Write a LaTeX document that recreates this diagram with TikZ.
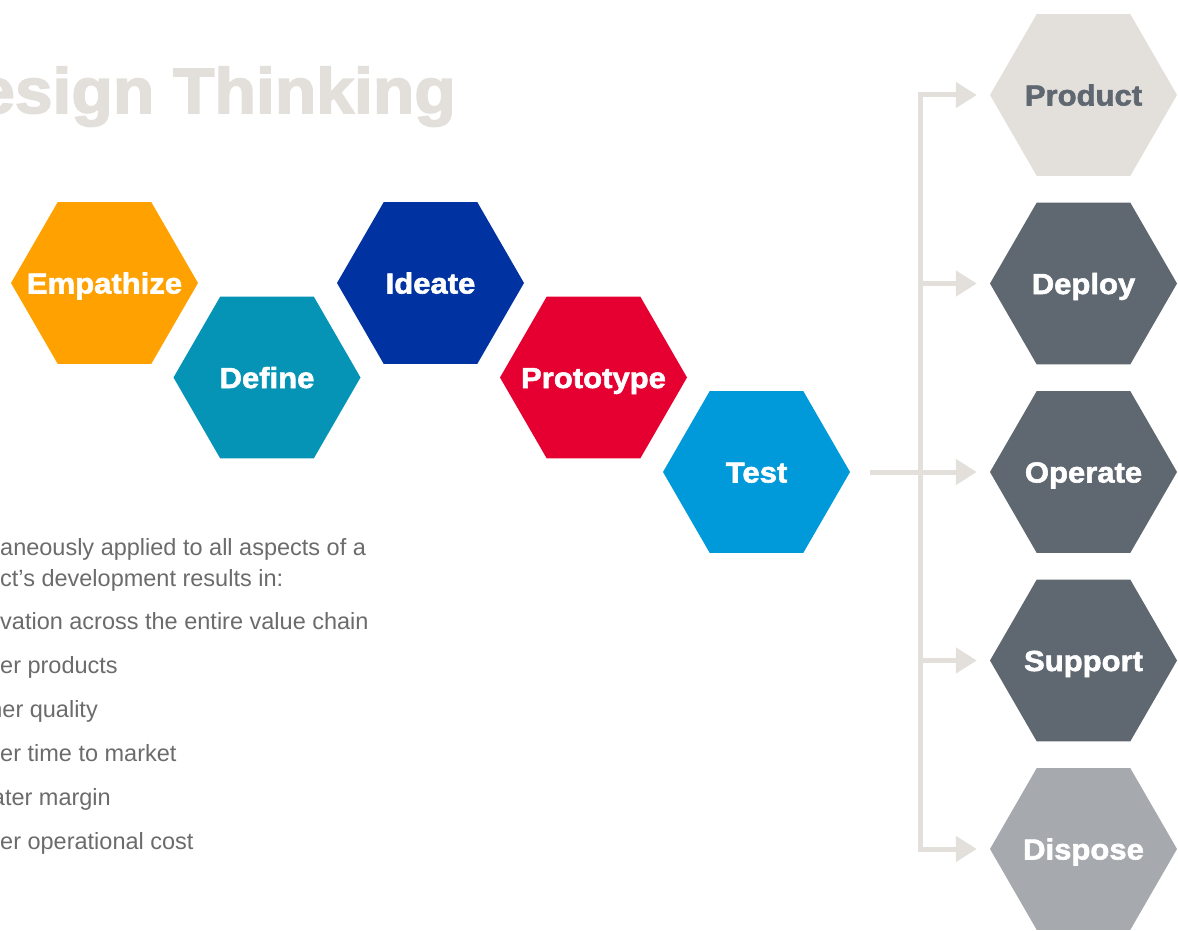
\documentclass[tikz,border=0pt]{standalone}
\usepackage{fontspec}
\setmainfont{Liberation Sans}
\newfontfamily\heavy[FakeStretch=1.07,FakeBold=2]{Liberation Sans Bold}
\newfontfamily\heavytitle[FakeStretch=1.06,FakeBold=2.6]{Liberation Sans Bold}
\usetikzlibrary{shapes.geometric,arrows.meta}
\definecolor{orng}{HTML}{FFA100}
\definecolor{teal}{HTML}{0594B5}
\definecolor{dblue}{HTML}{0033A1}
\definecolor{rred}{HTML}{E60032}
\definecolor{lblue}{HTML}{0099DA}
\definecolor{lgray}{HTML}{E3E0DC}
\definecolor{slate}{HTML}{5F6770}
\definecolor{mgray}{HTML}{A6AAAE}
\definecolor{bodytext}{HTML}{6B6B6B}
\tikzset{
  hexa/.style={regular polygon, regular polygon sides=6, minimum size=187pt,
    inner sep=0pt, draw=none, fill=#1, text=white, text height=21pt, text depth=0pt,
    font=\heavy\fontsize{29}{29}\selectfont},
  conn/.style={draw=lgray, line width=5pt, line join=miter,
    -{Triangle[length=21pt,width=25pt]}},
  bodyline/.style={anchor=base west, inner sep=0pt, text=bodytext,
    font=\fontsize{23.5}{23.5}\selectfont},
  bodycut/.style={anchor=base east, inner sep=0pt, text=bodytext,
    font=\fontsize{23.5}{23.5}\selectfont},
}
\newcommand{\hx}[1]{\makebox[0pt]{#1}}
\begin{document}
\begin{tikzpicture}[x=1pt,y=-1pt]
\useasboundingbox (0,0) rectangle (1178,931);
\clip (0,0) rectangle (1178,931);
% title
\node[anchor=base east, inner sep=0pt, text=lgray, font=\heavytitle\fontsize{64}{64}\selectfont] (title) at (456,113) {esign Thinking};
% process hexagons
\node[hexa=orng] (emp) at (104.5,283) {\hx{Empathize}};
\node[hexa=teal] (def) at (267,377.5) {\hx{Define}};
\node[hexa=dblue] (ide) at (430.5,283) {\hx{Ideate}};
\node[hexa=rred] (pro) at (593.5,377.5) {\hx{Prototype}};
\node[hexa=lblue] (tst) at (756.5,472) {\hx{Test}};
% lifecycle hexagons
\node[hexa=lgray, text=slate] (prd) at (1083.5,95) {\hx{Product}};
\node[hexa=slate] (dep) at (1083.5,283.5) {\hx{Deploy}};
\node[hexa=slate] (ope) at (1083.5,472) {\hx{Operate}};
\node[hexa=slate] (sup) at (1083.5,660.5) {\hx{Support}};
\node[hexa=mgray] (dis) at (1083.5,849) {\hx{Dispose}};
% connectors
\coordinate (jx) at (920,472);
\draw[conn, {Triangle[length=21pt,width=25pt]}-{Triangle[length=21pt,width=25pt]}]
  ([xshift=-13pt]prd.west) -- (jx |- prd.west) -- (jx |- dis.west) -- ([xshift=-13pt]dis.west);
\draw[conn] (jx |- dep.west) -- ([xshift=-13pt]dep.west);
\draw[conn] (jx |- sup.west) -- ([xshift=-13pt]sup.west);
\draw[conn] ([xshift=20pt]tst.east) -- ([xshift=-13pt]ope.west);
% body text
\node[bodyline] (t1) at (0,555) {aneously applied to all aspects of a};
\node[bodyline] (t2) at (0,586) {ct’s development results in:};
\node[bodyline] (t3) at (0,629) {vation across the entire value chain};
\node[bodyline] (t4) at (0,673) {er products};
\node[bodycut] (t5) at (98,717) {her quality};
\node[bodyline] (t6) at (0,761) {er time to market};
\node[bodycut] (t7) at (111,805) {ater margin};
\node[bodyline] (t8) at (0,849) {er operational cost};
\end{tikzpicture}
\end{document}
